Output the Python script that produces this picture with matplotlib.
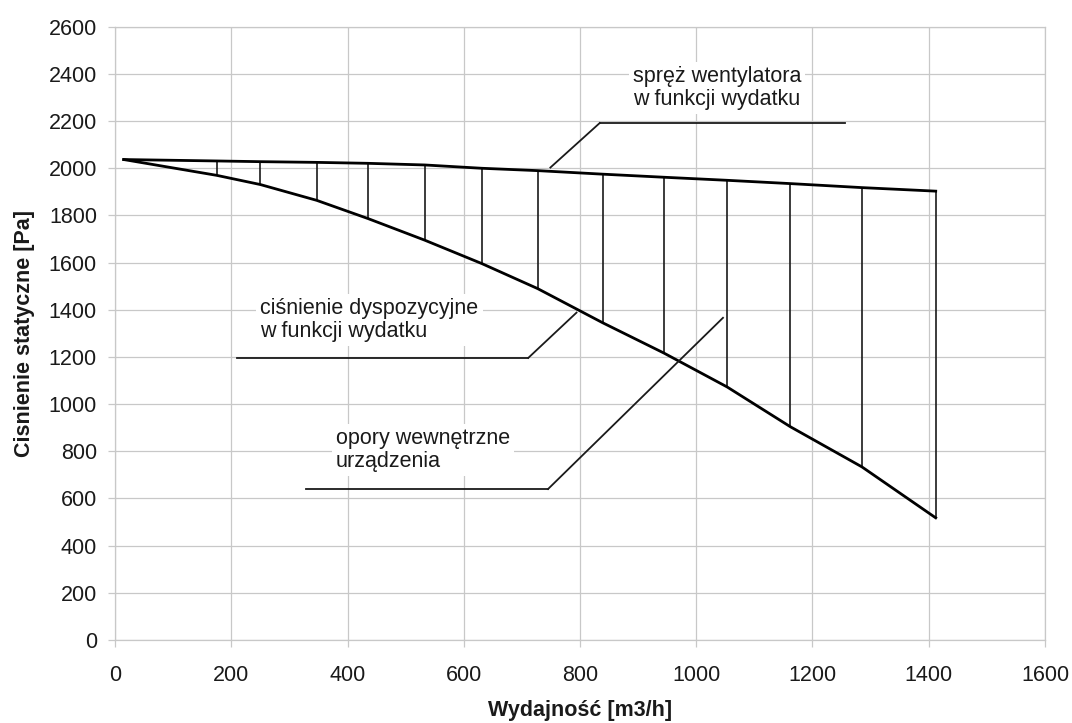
import matplotlib
matplotlib.use("Agg")
import matplotlib.pyplot as plt

# ---------------------------------------------------------------------------
# data
# ---------------------------------------------------------------------------
flow = [15, 175, 250, 347, 435, 533, 631, 727, 839, 944, 1053, 1162, 1285, 1412]
fan_pressure = [2037, 2031, 2028, 2025, 2021, 2014, 2000, 1990, 1975, 1962,
                1949, 1935, 1918, 1903]
avail_pressure = [2037, 1970, 1931, 1864, 1787, 1695, 1596, 1490, 1345, 1217,
                  1073, 904, 734, 518]

x_ticks = [0, 200, 400, 600, 800, 1000, 1200, 1400, 1600]
y_ticks = [0, 200, 400, 600, 800, 1000, 1200, 1400, 1600, 1800, 2000, 2200,
           2400, 2600]

labels = ["spręż wentylatora\nw funkcji wydatku",
          "ciśnienie dyspozycyjne\nw funkcji wydatku",
          "opory wewnętrzne\nurządzenia"]

# leader lines: (x_left, x_knee, y_shelf, x_tip, y_tip)
LEADERS = [
    (834, 1256, 2192, 749, 2003),
    (209, 711, 1196, 794, 1388),
    (329, 745, 640, 1046, 1366),
]
LABEL_POS = [(891, 2341), (250, 1356), (380, 806)]

# ---------------------------------------------------------------------------
# style
# ---------------------------------------------------------------------------
FONT = "Liberation Sans"
FS = 15.5
GRID = "#c8c8c8"
INK = "#1a1a1a"

plt.rcParams["font.family"] = [FONT, "DejaVu Sans"]

fig = plt.figure(figsize=(10.72, 7.23), dpi=100)
ax = fig.add_axes([0.1073, 0.1148, 0.8675, 0.8482])

ax.set_xlim(0, 1600)
ax.set_ylim(0, 2600)
ax.set_xticks(x_ticks)
ax.set_yticks(y_ticks)
ax.grid(True, color=GRID, lw=0.9)
ax.set_axisbelow(True)
for sp in ax.spines.values():
    sp.set_color(GRID)
    sp.set_linewidth(0.9)
ax.tick_params(axis="both", colors=GRID, length=5, width=0.9,
               labelcolor=INK, labelsize=FS)
ax.tick_params(axis="x", pad=13)
ax.tick_params(axis="y", pad=8)

# curves + vertical hatching between them
ax.vlines(flow[1:], avail_pressure[1:], fan_pressure[1:], color=INK, lw=1.2,
          zorder=3)
ax.plot(flow, fan_pressure, color="black", lw=2.0, zorder=4)
ax.plot(flow, avail_pressure, color="black", lw=2.0, zorder=4)

# leader lines
for xl, xk, ys, xt, yt in LEADERS:
    ax.plot([xl, xk], [ys, ys], color=INK, lw=1.3, zorder=5)
    ax.plot([xl, xt] if xt < xl else [xk, xt],
            [ys, yt], color=INK, lw=1.3, zorder=5)

# labels with white boxes hiding the grid
for (tx, ty), txt in zip(LABEL_POS, labels):
    ax.text(tx, ty, txt, ha="left", va="center", fontsize=FS, color=INK,
            linespacing=1.15, zorder=6,
            bbox=dict(facecolor="white", edgecolor="none", pad=3))

ax.set_xlabel("Wydajność [m3/h]", fontsize=FS, fontweight="bold",
              color=INK, labelpad=10)
ax.set_ylabel("Cisnienie statyczne [Pa]", fontsize=FS, fontweight="bold",
              color=INK, labelpad=10)

fig.savefig("out.png", dpi=100, facecolor="white")
